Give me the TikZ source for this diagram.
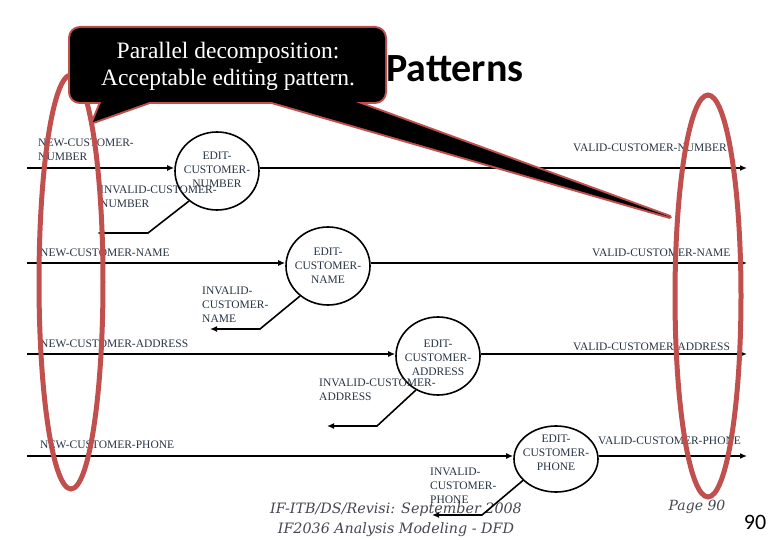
\documentclass[tikz,border=0pt]{standalone}
\usepackage{fontspec}
\setmainfont{Liberation Serif}
\newfontfamily\titlefont{Carlito}
\newfontfamily\footfont{DejaVu Serif}
\usetikzlibrary{arrows.meta,shapes.geometric}
\definecolor{loopred}{RGB}{192,80,77}
\definecolor{flowtext}{RGB}{40,52,66}
\definecolor{foottext}{RGB}{70,70,80}

\begin{document}
\begin{tikzpicture}[x=1pt,y=-1pt,
  flow/.style={line width=1.6pt,-{Latex[length=7pt,width=6pt]}},
  proc/.style={ellipse,draw,line width=1.6pt,minimum width=84pt,minimum height=78pt,inner sep=0pt},
  lab/.style={text=flowtext,font=\fontsize{11.5}{14}\selectfont,inner sep=0pt},
  loop/.style={draw=loopred,line width=5pt},
  balloon/.style={draw=loopred,line width=4pt,line join=round}]

\useasboundingbox (0,0) rectangle (780,540);

% ======================= footer ==========================================
\node[font=\footfont\itshape\fontsize{14.3}{20}\selectfont,text=foottext,align=center]
  (footer) at (396,520) {IF-ITB/DS/Revisi: September 2008\\IF2036 Analysis Modeling - DFD};
\node[font=\footfont\itshape\fontsize{14}{16}\selectfont,text=foottext] (page) at (697,507) {Page 90};
\node[font=\titlefont\fontsize{22}{24}\selectfont] (slideno) at (755,522) {90};

% ======================= the four edit processes =========================
\node[proc] (editnum) at (217,171) {};
\node[proc] (editname) at (328,266) {};
\node[proc] (editaddr) at (438,356) {};
\node[proc,minimum height=66pt] (editphone) at (556,459) {};
\node[lab,align=center] (editnumtxt) at (217,170) {EDIT-\\CUSTOMER-\\NUMBER};
\node[lab,align=center] (editnametxt) at (328,266) {EDIT-\\CUSTOMER-\\NAME};
\node[lab,align=center] (editaddrtxt) at (438,358) {EDIT-\\CUSTOMER-\\ADDRESS};
\node[lab,align=center] (editphonetxt) at (556,453) {EDIT-\\CUSTOMER-\\PHONE};

% free ends of the flows: in (left), out (right), bend and end of the rejects
\foreach \n/\y in {num/168,name/263,addr/354,phone/456}{
  \coordinate (\n-in) at (27,\y);
  \coordinate (\n-out) at (747,\y);
}
\coordinate (num-bend) at (148,233);   \coordinate (num-rej) at (97,233);
\coordinate (name-bend) at (260,329);  \coordinate (name-rej) at (210,329);
\coordinate (addr-bend) at (377,426);  \coordinate (addr-rej) at (327,426);
\coordinate (phone-bend) at (482,515); \coordinate (phone-rej) at (432,515);

% ======================= flows ===========================================
\draw[flow] (num-in) -- (num-in -| editnum.west);
\draw[flow] (editnum.east |- num-out) -- (num-out);
\draw[flow] (editnum.227) -- (num-bend) -- (num-rej);

\draw[flow] (name-in) -- (name-in -| editname.west);
\draw[flow] (editname.east |- name-out) -- (name-out);
\draw[flow] (editname.227) -- (name-bend) -- (name-rej);

\draw[flow] (addr-in) -- (addr-in -| editaddr.west);
\draw[flow] (editaddr.east |- addr-out) -- (addr-out);
\draw[flow] (editaddr.237) -- (addr-bend) -- (addr-rej);

\draw[flow] (phone-in) -- (phone-in -| editphone.west);
\draw[flow] (editphone.east |- phone-out) -- (phone-out);
\draw[flow] (editphone.213) -- (phone-bend) -- (phone-rej);

% ======================= flow labels =====================================
\node[lab,anchor=west,align=left] (newnum) at (38,150) {NEW-CUSTOMER-\\NUMBER};
\node[lab,anchor=west,align=left] (badnum) at (100,197) {INVALID-CUSTOMER-\\NUMBER};
\node[lab,anchor=west] (oknum) at (573,148) {VALID-CUSTOMER-NUMBER};

\node[lab,anchor=west] (newname) at (40,253) {NEW-CUSTOMER-NAME};
\node[lab,anchor=west,align=left] (badname) at (202,305) {INVALID-\\CUSTOMER-\\NAME};
\node[lab,anchor=west] (okname) at (592,253) {VALID-CUSTOMER-NAME};

\node[lab,anchor=west] (newaddr) at (40,344) {NEW-CUSTOMER-ADDRESS};
\node[lab,anchor=west,align=left] (badaddr) at (319,390) {INVALID-CUSTOMER-\\ADDRESS};
\node[lab,anchor=west] (okaddr) at (573,347) {VALID-CUSTOMER-ADDRESS};

\node[lab,anchor=west] (newphone) at (40,445) {NEW-CUSTOMER-PHONE};
\node[lab,anchor=west,align=left] (badphone) at (430,486) {INVALID-\\CUSTOMER-\\PHONE};
\node[lab,anchor=west] (okphone) at (598,441) {VALID-CUSTOMER-PHONE};

% ======================= the two red loops: inputs / outputs ==============
\draw[loop] (71,282) ellipse [x radius=32pt,y radius=207pt];
\draw[loop] (708,296) ellipse [x radius=33pt,y radius=201pt];

% ======================= title + callout =================================
\node[anchor=base west,inner sep=0pt,font=\titlefont\bfseries\fontsize{40}{48}\selectfont]
  (title) at (386,82) {Patterns};
\draw[balloon] (102,100) -- (93,122) -- (155,100) -- cycle;
\draw[balloon] (265,100) -- (670,217) -- (350,100) -- cycle;
\draw[balloon,rounded corners=10pt] (70,28) rectangle (385,102);
\fill (102,100) -- (93,122) -- (155,100) -- cycle;
\fill (265,100) -- (670,217) -- (350,100) -- cycle;
\fill[rounded corners=10pt] (70,28) rectangle (385,102);
\node[text=white,align=center,font=\fontsize{23.5}{27}\selectfont] (calltxt) at (228,66)
  {Parallel decomposition:\\Acceptable editing pattern.};

\end{tikzpicture}
\end{document}
